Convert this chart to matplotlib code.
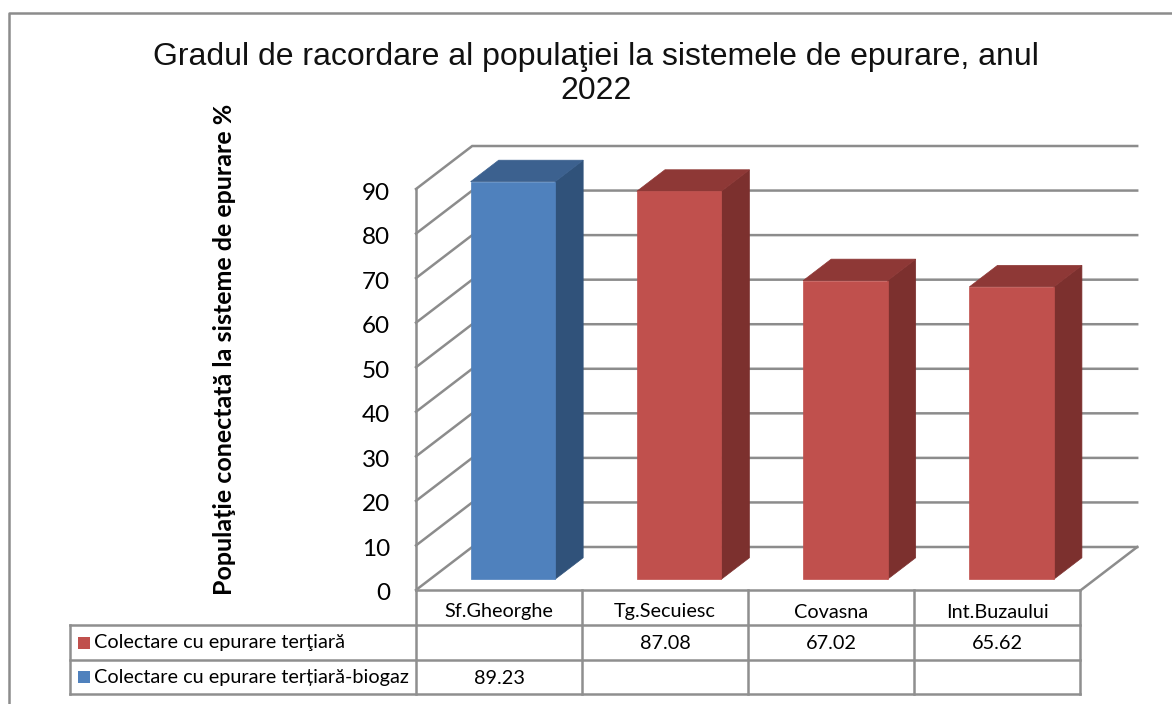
#!/usr/bin/env python3
# -*- coding: utf-8 -*-
import matplotlib
matplotlib.use("Agg")
import matplotlib.pyplot as plt
from matplotlib.patches import Polygon, Rectangle

W, H = 1172, 704

categories = ["Sf.Gheorghe", "Tg.Secuiesc", "Covasna", "Int.Buzaului"]
series_names = ["Colectare cu epurare terţiară", "Colectare cu epurare terțiară-biogaz"]
tertiara = [None, 87.08, 67.02, 65.62]
biogaz = [89.23, None, None, None]
yticks = [0, 10, 20, 30, 40, 50, 60, 70, 80, 90]

title = "Gradul de racordare al populaţiei la sistemele de epurare, anul\n2022"
ylabel = "Populaţie conectată la sisteme de epurare %"

GRID = "#8c8c8c"
TABLE = "#8f8f8f"
RED = ("#c0504d", "#8e3836", "#7c302e")
BLUE = ("#4f81bd", "#3c618f", "#30527a")

# depth of the 3d box, in data units of the front plane
DX, DY = 0.338, 9.65


def proj(x, y, d):
    return (x + d * DX, y + d * DY)


def px(x, y):
    return (x / W, 1 - y / H)


fig = plt.figure(figsize=(W / 100, H / 100), dpi=100)
fig.patch.set_facecolor("white")

# front plane of the chart: x 416-1081 px, y 590-189 px
ax = fig.add_axes([416 / W, 1 - 590 / H, 665 / W, 401 / H])
ax.set_xlim(0, 4)
ax.set_ylim(0, 90)
ax.axis("off")

# walls
for t in yticks:
    ax.plot([proj(0, t, 0)[0], proj(0, t, 1)[0], proj(4, t, 1)[0]],
            [proj(0, t, 0)[1], proj(0, t, 1)[1], proj(4, t, 1)[1]],
            color=GRID, lw=1.8, clip_on=False, solid_joinstyle="miter")
ax.plot([0, 0], [0, 90], color=GRID, lw=1.8, clip_on=False)
ax.plot([proj(4, 0, 0)[0], proj(4, 0, 1)[0]], [0, proj(4, 0, 1)[1]],
        color=GRID, lw=1.8, clip_on=False)


def draw_bar(i, v, cols):
    x0, x1 = i + 0.244, i + 0.752
    d0, d1 = 0.25, 0.75
    front = [proj(x0, 0, d0), proj(x1, 0, d0), proj(x1, v, d0), proj(x0, v, d0)]
    side = [proj(x1, 0, d0), proj(x1, 0, d1), proj(x1, v, d1), proj(x1, v, d0)]
    top = [proj(x0, v, d0), proj(x1, v, d0), proj(x1, v, d1), proj(x0, v, d1)]
    ax.add_patch(Polygon(side, fc=cols[2], ec=cols[2], lw=0.5, clip_on=False, zorder=3))
    ax.add_patch(Polygon(top, fc=cols[1], ec=cols[1], lw=0.5, clip_on=False, zorder=3))
    ax.add_patch(Polygon(front, fc=cols[0], ec=cols[0], lw=0.5, clip_on=False, zorder=4))


for i, v in enumerate(biogaz):
    if v is not None:
        draw_bar(i, v, BLUE)
for i, v in enumerate(tertiara):
    if v is not None:
        draw_bar(i, v, RED)

# tick labels
for t in yticks:
    ax.annotate(str(t), (0, t), xytext=(-26 * 0.72, -4 * 0.72), textcoords="offset points",
                ha="right", va="center", fontsize=17.5, family="Lato", color="black",
                annotation_clip=False)

# overlay in figure fractions for frame, title and table
fig.add_artist(plt.Line2D(*zip(px(9, 704), px(9, 13), px(1172, 13)),
                          color=GRID, lw=1.8))
fig.text(*px(596, 74), title, ha="center", va="center", fontsize=23,
         family="Liberation Sans", color="#111111", linespacing=1.2)
fig.text(*px(225, 349), ylabel, rotation=90, ha="center", va="center",
         fontsize=18, fontweight="bold", family="Lato", color="black")

col_x = [416, 582, 748, 914, 1080]
row_y = [590, 625, 660, 694]
LEFT = 70


def tline(x0, y0, x1, y1):
    fig.add_artist(plt.Line2D(*zip(px(x0, y0), px(x1, y1)), color=TABLE, lw=1.8))


tline(416, 590, 1080, 590)
for y in row_y[1:]:
    tline(LEFT, y, 1080, y)
for x in col_x:
    tline(x, 590, x, 694)
tline(LEFT, 625, LEFT, 694)

for i, c in enumerate(categories):
    fig.text(*px((col_x[i] + col_x[i + 1]) / 2, 612), c, ha="center", va="center",
             fontsize=14.3, family="Lato", color="black")

rows = [(series_names[0], tertiara, RED[0]), (series_names[1], biogaz, BLUE[0])]
for r, (name, vals, col) in enumerate(rows):
    yc = (row_y[r + 1] + row_y[r + 2]) / 2
    x0, y0 = px(78, yc + 6)
    fig.add_artist(Rectangle((x0, y0), 12 / W, 12 / H, fc=col, ec="none",
                             transform=fig.transFigure))
    fig.text(*px(94, yc), name, ha="left", va="center", fontsize=14.3,
             family="Lato", color="black")
    for i, v in enumerate(vals):
        if v is not None:
            fig.text(*px((col_x[i] + col_x[i + 1]) / 2, yc + 1), f"{v:.2f}",
                     ha="center", va="center", fontsize=14.3, family="Lato", color="black")

fig.savefig("out.png", dpi=100)
